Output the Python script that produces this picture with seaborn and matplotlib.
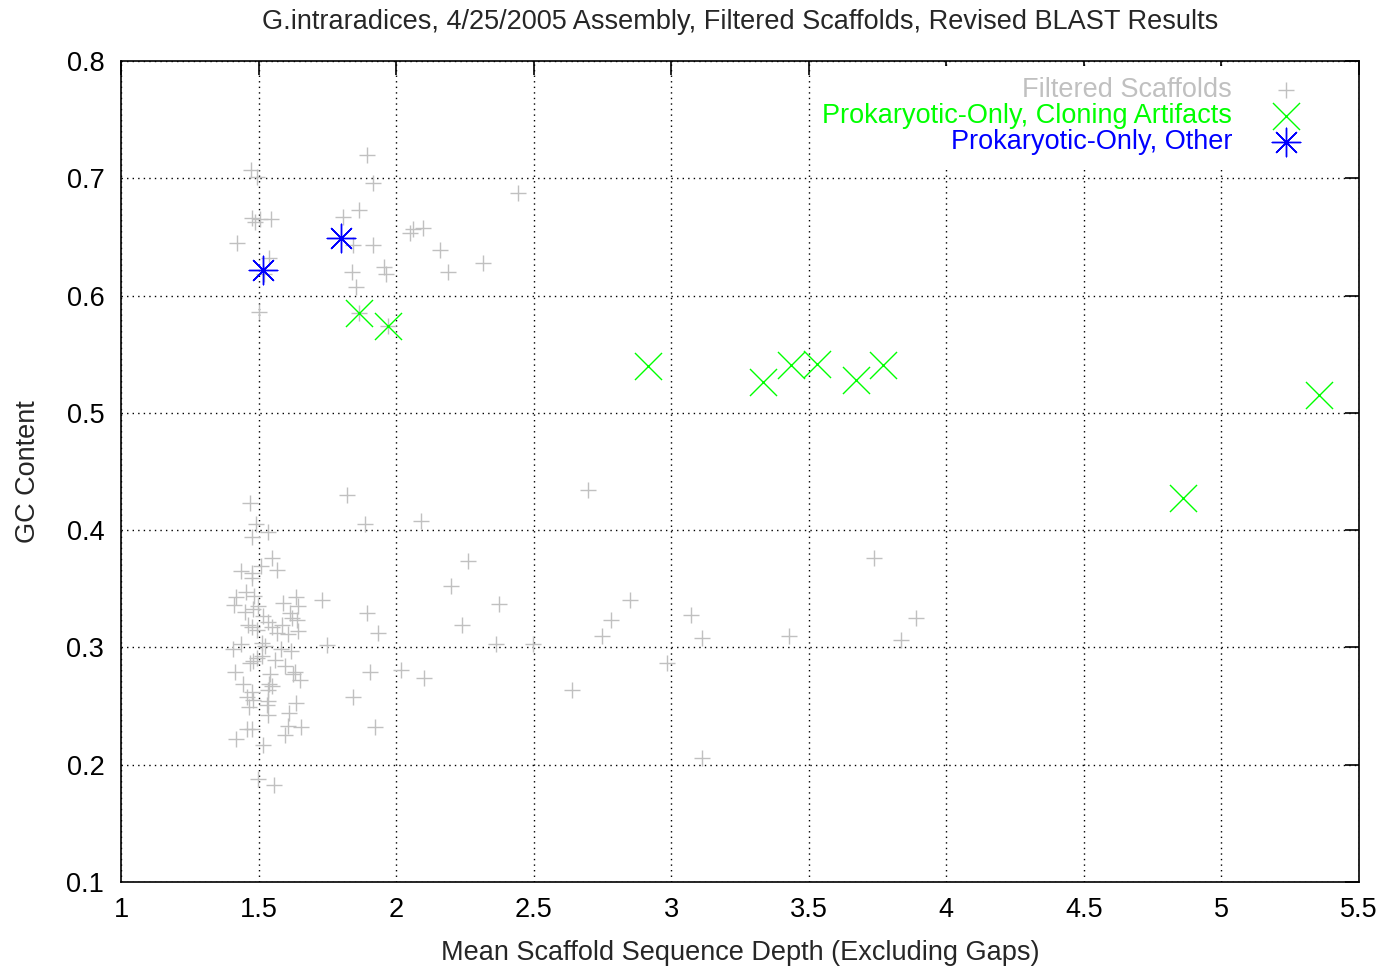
import numpy as np
import pandas as pd
import seaborn as sns
import matplotlib.pyplot as plt

# Filtered scaffolds (gray +)
filt_x = [1.820, 1.469, 1.490, 1.533, 1.475, 1.548, 1.566, 1.508, 1.435, 1.475,
          1.477, 1.454, 1.418, 1.485, 1.636, 1.730, 1.588, 1.411, 1.645, 1.499,
          1.451, 1.479, 1.614, 1.517, 1.620, 1.535, 1.638, 1.584, 1.463, 1.475,
          1.548, 1.493, 1.566, 1.645, 1.608, 1.748, 1.435, 1.406, 1.511, 1.523,
          1.582, 1.618, 1.511, 1.493, 1.560, 1.481, 1.469, 1.596, 1.633, 1.624,
          1.414, 1.651, 1.542, 1.445, 1.539, 1.548, 1.535, 1.475, 1.457, 1.481,
          1.535, 1.531, 1.636, 1.466, 1.842, 1.535, 1.611, 1.656, 1.608, 1.459,
          1.475, 1.596, 1.418, 1.515, 1.499, 1.556,
          1.893, 1.471, 1.493, 1.917, 2.444, 1.866, 1.808, 1.475, 1.505, 1.544,
          1.487, 2.099, 2.060, 2.050, 1.423, 1.844, 1.915, 2.160, 2.317, 1.539,
          1.520, 1.957, 1.963, 1.838, 2.187, 1.854, 1.503, 1.865, 1.972,
          1.888, 2.091, 2.698, 2.262, 2.199, 2.374, 1.896, 1.935, 2.238, 2.363,
          2.497, 2.852, 2.780, 2.749, 3.072, 3.111, 3.429, 3.737, 3.890, 3.835,
          1.904, 2.019, 2.101, 1.924, 2.983, 2.639, 3.113]
filt_y = [0.430, 0.423, 0.405, 0.398, 0.394, 0.376, 0.366, 0.369, 0.365, 0.363,
          0.359, 0.347, 0.343, 0.344, 0.343, 0.340, 0.338, 0.336, 0.335, 0.335,
          0.330, 0.333, 0.329, 0.327, 0.325, 0.322, 0.323, 0.319, 0.319, 0.317,
          0.317, 0.315, 0.312, 0.314, 0.311, 0.302, 0.303, 0.299, 0.304, 0.301,
          0.299, 0.297, 0.293, 0.291, 0.289, 0.288, 0.287, 0.284, 0.279, 0.277,
          0.279, 0.272, 0.277, 0.269, 0.269, 0.267, 0.264, 0.262, 0.258, 0.255,
          0.254, 0.251, 0.253, 0.249, 0.258, 0.242, 0.244, 0.232, 0.233, 0.230,
          0.230, 0.225, 0.222, 0.217, 0.188, 0.183,
          0.720, 0.707, 0.701, 0.696, 0.687, 0.673, 0.667, 0.666, 0.665, 0.665,
          0.663, 0.658, 0.657, 0.653, 0.645, 0.643, 0.643, 0.639, 0.628, 0.632,
          0.618, 0.624, 0.618, 0.620, 0.620, 0.607, 0.586, 0.585, 0.574,
          0.405, 0.408, 0.434, 0.374, 0.352, 0.337, 0.329, 0.312, 0.319, 0.303,
          0.303, 0.340, 0.323, 0.310, 0.328, 0.308, 0.310, 0.376, 0.325, 0.306,
          0.279, 0.281, 0.274, 0.232, 0.287, 0.264, 0.206]

# Prokaryotic-only, cloning artifacts (green x)
clon_x = [1.865, 1.972, 2.916, 3.334, 3.436, 3.530, 3.672, 3.770, 4.860, 5.355]
clon_y = [0.585, 0.574, 0.540, 0.526, 0.541, 0.542, 0.528, 0.541, 0.427, 0.515]

# Prokaryotic-only, other (blue asterisk)
oth_x = [1.515, 1.798]
oth_y = [0.622, 0.649]

sns.set_style('white')
plt.rcParams['font.family'] = ['Liberation Sans', 'DejaVu Sans']

fig = plt.figure(figsize=(13.83, 9.66), dpi=100)
ax = fig.add_axes([0.0875, 0.087, 0.8951, 0.8499])

gray = '#c0c0c0'
green = '#00ff00'
blue = '#0000ff'
fs = 19.5

sns.scatterplot(x=filt_x, y=filt_y, marker='+', color=gray, s=120, linewidth=1.0,
                label='Filtered Scaffolds', ax=ax, zorder=3)
sns.scatterplot(x=clon_x, y=clon_y, marker='x', color=green, s=380, linewidth=1.0,
                label='Prokaryotic-Only, Cloning Artifacts', ax=ax, zorder=4)
sns.scatterplot(x=oth_x, y=oth_y, marker=(8, 2, 0), color=blue, s=420, linewidth=1.0,
                label='Prokaryotic-Only, Other', ax=ax, zorder=5)

ax.set_xlim(1, 5.5)
ax.set_ylim(0.1, 0.8)
ax.set_xticks(np.arange(1, 5.51, 0.5))
ax.set_yticks(np.arange(0.1, 0.81, 0.1))
ax.set_xticklabels(['1', '1.5', '2', '2.5', '3', '3.5', '4', '4.5', '5', '5.5'])
ax.set_yticklabels(['0.1', '0.2', '0.3', '0.4', '0.5', '0.6', '0.7', '0.8'])
ax.grid(True, linestyle=(0, (1, 3)), color='black', linewidth=1.0)
ax.set_axisbelow(True)
for sp in ax.spines.values():
    sp.set_color('black')
    sp.set_linewidth(1.2)
ax.tick_params(direction='in', length=10, width=1.2, top=True, right=True,
               labelsize=fs, colors='black')
ax.tick_params(axis='x', pad=11)
ax.tick_params(axis='y', pad=12)

ax.set_xlabel('Mean Scaffold Sequence Depth (Excluding Gaps)', fontsize=fs, labelpad=12)
ax.set_ylabel('GC Content', fontsize=fs, labelpad=18)
ax.set_title('G.intraradices, 4/25/2005 Assembly, Filtered Scaffolds, Revised BLAST Results',
             fontsize=fs, pad=23)

leg = ax.legend(loc='upper right', bbox_to_anchor=(0.972, 1.0), markerfirst=False,
                frameon=True, framealpha=1, edgecolor='none', fontsize=fs,
                labelcolor=[gray, green, blue], handletextpad=1.2, handlelength=1.6,
                labelspacing=0.0, borderaxespad=0.2)
leg.get_frame().set_facecolor('white')
leg.set_zorder(2)

fig.savefig('out.png', dpi=100)
